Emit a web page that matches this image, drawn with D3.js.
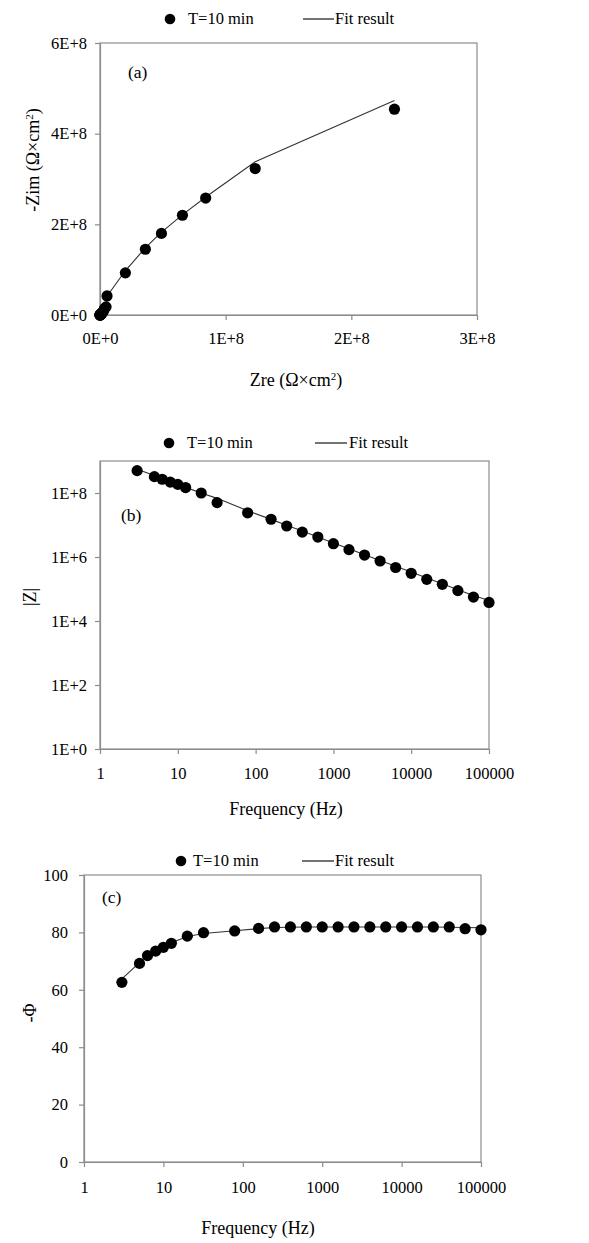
<!DOCTYPE html>
<html><head><meta charset="utf-8">
<script src="https://cdn.jsdelivr.net/npm/d3@7"></script>
<style>
body{margin:0;background:#fff}
text{font-family:"Liberation Serif","Times New Roman",serif;fill:#000}
</style>
</head><body>
<svg id="chart" width="589" height="1243" font-family="Liberation Serif"></svg>
<script>
// ---- data ----
const freq = [3, 5, 6.3, 8, 10, 12.6, 20, 32, 79, 158, 251, 398, 631, 1000, 1585, 2512, 3981, 6310, 10000, 15849, 25119, 39811, 63096, 100000];
// Nyquist (Ω×cm²)
const zreData = [2.343e8, 1.235e8, 0.841e8, 0.656e8, 0.489e8, 0.361e8, 0.202e8, 0.056e8, 0.048e8, 0.035e8, 0.028e8, 0.020e8, 0.015e8, 0.011e8, 0.008e8, 0.006e8, 0.004e8, 0.003e8, 0.002e8, 0.0015e8, 0.001e8, 0.0007e8, 0.0005e8, 0.0004e8];
const zimData = [4.54e8, 3.23e8, 2.58e8, 2.20e8, 1.80e8, 1.45e8, 0.93e8, 0.42e8, 0.18e8, 0.14e8, 0.09e8, 0.06e8, 0.04e8, 0.026e8, 0.017e8, 0.011e8, 0.0075e8, 0.0047e8, 0.003e8, 0.002e8, 0.0014e8, 0.0009e8, 0.0006e8, 0.0004e8];
const zreFit = [2.343e8, 1.235e8, 0.85e8, 0.66e8, 0.49e8, 0.36e8, 0.20e8, 0.07e8, 0.045e8, 0.03e8, 0.024e8, 0.018e8, 0.013e8, 0.009e8, 0.007e8, 0.005e8, 0.0035e8, 0.0025e8, 0.0018e8, 0.0012e8, 0.0009e8, 0.0006e8, 0.0004e8, 0.0003e8];
const zimFit = [4.73e8, 3.38e8, 2.62e8, 2.22e8, 1.83e8, 1.48e8, 0.97e8, 0.47e8, 0.22e8, 0.15e8, 0.097e8, 0.064e8, 0.042e8, 0.027e8, 0.018e8, 0.012e8, 0.0078e8, 0.005e8, 0.0034e8, 0.0022e8, 0.0014e8, 0.0009e8, 0.0006e8, 0.0004e8];
// Bode |Z|
const modZData = [5.0e8, 3.24e8, 2.69e8, 2.19e8, 1.86e8, 1.48e8, 1.0e8, 5.0e7, 2.4e7, 1.51e7, 9.3e6, 6.0e6, 4.2e6, 2.6e6, 1.7e6, 1.15e6, 7.5e5, 4.7e5, 3.1e5, 2.0e5, 1.4e5, 8.9e4, 5.6e4, 3.8e4];
const modZFit = [5.5e8, 3.5e8, 2.8e8, 2.3e8, 1.86e8, 1.5e8, 1.0e8, 6.8e7, 2.8e7, 1.5e7, 9.8e6, 6.5e6, 4.2e6, 2.75e6, 1.8e6, 1.17e6, 7.8e5, 5.1e5, 3.4e5, 2.2e5, 1.45e5, 9.5e4, 6.3e4, 4.4e4];
// Bode phase (-Φ, degrees)
const phaseData = [62.6, 69.2, 71.9, 73.5, 74.8, 76.2, 78.7, 79.9, 80.5, 81.4, 81.9, 81.9, 81.9, 81.9, 81.9, 81.9, 81.9, 81.9, 81.9, 81.9, 81.9, 81.9, 81.3, 80.9];
const phaseFit = [63.8, 69.5, 72.2, 73.8, 75.1, 76.4, 78.6, 79.6, 80.6, 81.3, 81.7, 81.8, 81.9, 81.9, 81.9, 81.9, 81.9, 81.9, 81.9, 81.9, 81.9, 81.8, 81.7, 81.6];
// ticks
const aXTicks = [0, 1e8, 2e8, 3e8];
const aXLabels = ["0E+0", "1E+8", "2E+8", "3E+8"];
const aYTicks = [0, 2e8, 4e8, 6e8];
const aYLabels = ["0E+0", "2E+8", "4E+8", "6E+8"];
const fTicks = [1, 10, 100, 1000, 10000, 100000];
const fLabels = ["1", "10", "100", "1000", "10000", "100000"];
const bYTicks = [1, 1e2, 1e4, 1e6, 1e8];
const bYLabels = ["1E+0", "1E+2", "1E+4", "1E+6", "1E+8"];
const cYTicks = [0, 20, 40, 60, 80, 100];
const cYLabels = ["0", "20", "40", "60", "80", "100"];
const legendLabels = ["T=10 min", "Fit result"];

// ---- drawing ----
const svg = d3.select("#chart");
const AX = "#8c8c8c";
const FONT = '"Liberation Serif","Times New Roman",serif';

function panel(cfg) {
  const g = svg.append("g");
  const x = cfg.x, y = cfg.y;
  const [x0, x1] = x.range(), [y1, y0] = y.range();
  g.append("rect").attr("x", x0).attr("y", y0).attr("width", x1 - x0).attr("height", y1 - y0)
    .attr("fill", "none").attr("stroke", AX).attr("stroke-width", 1.2);
  const xa = g.append("g").attr("transform", `translate(0,${y1})`)
    .call(d3.axisBottom(x).tickValues(cfg.xTicks).tickFormat((d, i) => cfg.xLabels[i]).tickSize(5).tickPadding(cfg.xPad).tickSizeOuter(0));
  const ya = g.append("g").attr("transform", `translate(${x0},0)`)
    .call(d3.axisLeft(y).tickValues(cfg.yTicks).tickFormat((d, i) => cfg.yLabels[i]).tickSize(5).tickPadding(cfg.yPad).tickSizeOuter(0));
  [xa, ya].forEach(a => {
    a.attr("font-family", FONT);
    a.select(".domain").attr("stroke", AX).attr("stroke-width", 1.2);
    a.selectAll(".tick line").attr("stroke", AX).attr("stroke-width", 1.2);
    a.selectAll(".tick text").attr("fill", "#000").style("font-family", FONT).style("font-size", "16.5px");
  });
  // fit line
  const line = d3.line().x(d => x(d[0])).y(d => y(d[1]));
  g.append("path").datum(cfg.fit).attr("d", line).attr("fill", "none").attr("stroke", "#333").attr("stroke-width", 1.1);
  // data points
  g.selectAll("circle.pt").data(cfg.data).enter().append("circle").attr("class", "pt")
    .attr("cx", d => x(d[0])).attr("cy", d => y(d[1])).attr("r", 5.6).attr("fill", "#000");
  // panel tag
  g.append("text").attr("x", cfg.tag[1]).attr("y", cfg.tag[2]).style("font-size", "17.5px").text(cfg.tag[0]);
  // axis titles
  g.append("text").attr("x", cfg.xTitle[1]).attr("y", cfg.xTitle[2]).attr("text-anchor", "middle")
    .style("font-size", "18px").html(cfg.xTitle[0]);
  g.append("text").attr("transform", `translate(${cfg.yTitle[1]},${cfg.yTitle[2]}) rotate(-90)`)
    .attr("text-anchor", "middle").attr("dy", "0.35em").style("font-size", "18px").html(cfg.yTitle[0]);
  // legend
  const L = cfg.legend;
  g.append("circle").attr("cx", L.dot).attr("cy", L.y).attr("r", 5.3).attr("fill", "#000");
  g.append("text").attr("x", L.t1).attr("y", L.y).attr("dy", "0.33em").style("font-size", "16.5px").text(legendLabels[0]);
  g.append("line").attr("x1", L.l0).attr("x2", L.l1).attr("y1", L.y).attr("y2", L.y).attr("stroke", "#000").attr("stroke-width", 1.1);
  g.append("text").attr("x", L.t2).attr("y", L.y).attr("dy", "0.33em").style("font-size", "16.5px").text(legendLabels[1]);
}

panel({
  x: d3.scaleLinear().domain([0, 3e8]).range([100, 477]),
  y: d3.scaleLinear().domain([0, 6e8]).range([315, 43]),
  xTicks: aXTicks, xLabels: aXLabels, yTicks: aYTicks, yLabels: aYLabels,
  xPad: 12, yPad: 8,
  data: zreData.map((v, i) => [v, zimData[i]]).reverse(),
  fit: zreFit.map((v, i) => [v, zimFit[i]]).concat([[0, 0]]).reverse(),
  tag: ["(a)", 128, 78],
  xTitle: ["Zre (Ω×cm<tspan dy='-6' font-size='11'>2</tspan><tspan dy='6'>)</tspan>", 296, 386],
  yTitle: ["-Zim (Ω×cm<tspan dy='-6' font-size='11'>2</tspan><tspan dy='6'>)</tspan>", 33, 160],
  legend: {y: 19, dot: 170, t1: 188, l0: 303, l1: 334, t2: 335}
});

panel({
  x: d3.scaleLog().domain([1, 1e5]).range([100, 489]),
  y: d3.scaleLog().domain([1, 1e9]).range([749, 461]),
  xTicks: fTicks, xLabels: fLabels, yTicks: bYTicks, yLabels: bYLabels,
  xPad: 13, yPad: 8,
  data: freq.map((f, i) => [f, modZData[i]]),
  fit: freq.map((f, i) => [f, modZFit[i]]),
  tag: ["(b)", 121, 521],
  xTitle: ["Frequency (Hz)", 286, 815],
  yTitle: ["|Z|", 30, 597],
  legend: {y: 443, dot: 169, t1: 187, l0: 315, l1: 347, t2: 349}
});

panel({
  x: d3.scaleLog().domain([1, 1e5]).range([84, 481]),
  y: d3.scaleLinear().domain([0, 100]).range([1162, 875]),
  xTicks: fTicks, xLabels: fLabels, yTicks: cYTicks, yLabels: cYLabels,
  xPad: 14, yPad: 11,
  data: freq.map((f, i) => [f, phaseData[i]]),
  fit: freq.map((f, i) => [f, phaseFit[i]]),
  tag: ["(c)", 102, 903],
  xTitle: ["Frequency (Hz)", 258, 1234],
  yTitle: ["-Φ", 30, 1013],
  legend: {y: 861, dot: 181, t1: 193, l0: 302, l1: 334, t2: 335}
});
</script>
</body></html>
